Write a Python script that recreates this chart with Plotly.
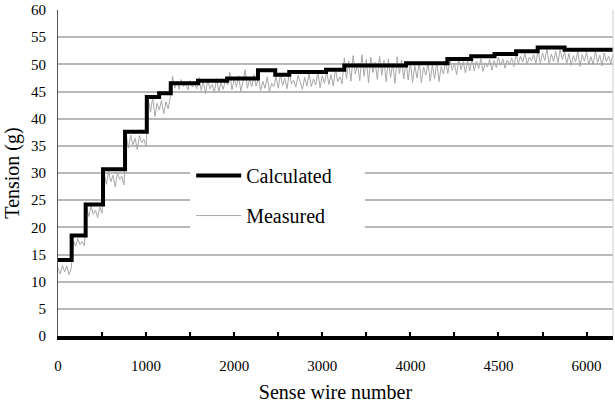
import plotly.graph_objects as go

# Calculated tension: step levels starting at each listed wire number
calc_wire = [0, 155, 314, 511, 761, 1008, 1148, 1280, 1590, 1920, 2270, 2466,
             2625, 3042, 3250, 3951, 4420, 4690, 4955, 5200, 5445, 5750, 6300]
calc_tension = [14.0, 18.5, 24.2, 30.7, 37.6, 44.0, 44.7, 46.5, 47.0, 47.4, 48.9, 48.1,
                48.6, 49.0, 49.8, 50.2, 51.0, 51.5, 51.9, 52.4, 53.1, 52.7, 52.7]

# Measured tension, sampled every 25 wires from wire 0
measured_tension = [
    12.6, 11.4, 13.0, 11.8, 12.9, 11.3, 12.4,
    17.6, 16.5, 17.9, 16.8, 17.4, 16.6,
    23.6, 22.0, 23.9, 22.4, 23.1, 21.8, 23.7, 22.6,
    29.8, 27.9, 30.3, 28.4, 29.6, 27.4, 30.1, 28.8, 29.4, 27.8,
    36.8, 34.6, 37.0, 35.2, 36.4, 34.3, 36.9, 35.6, 36.2, 34.8,
    43.6, 41.2, 43.9, 40.4, 42.8, 41.6, 43.4, 40.9, 43.1, 41.8, 44.0,
    47.8, 45.6, 46.9, 45.4, 47.2, 45.9, 46.6, 45.3, 47.0, 45.8, 46.4, 45.5,
    47.6, 45.2, 46.8, 44.6, 47.1, 45.5, 46.3, 44.8, 47.4, 45.0, 46.6, 45.4, 47.0,
    46.2, 48.6, 45.3, 47.4, 45.8, 47.9, 45.1, 46.8, 49.0, 45.6, 47.2, 45.9, 48.1, 46.0,
    47.5, 45.2, 46.9, 45.6, 47.7, 45.0, 46.5, 45.9,
    47.8, 45.6, 48.2, 46.1, 47.4, 45.5, 48.4, 46.4, 47.1, 45.8, 48.0, 46.7, 45.4, 47.6,
    46.0, 48.3, 45.9, 47.3, 46.2, 48.5, 45.7, 47.9, 46.5,
    48.7, 46.3, 48.1, 46.0, 49.2, 46.8, 47.7, 46.4,
    51.2, 47.4, 50.6, 46.9, 51.6, 48.2, 50.1, 47.0, 51.8, 47.8, 50.9, 46.6, 51.3, 48.5,
    50.4, 47.2, 51.5, 48.0, 50.7, 46.8, 51.0, 47.6, 50.2, 46.5, 51.4, 48.3, 50.8, 47.3, 50.5,
    47.1, 50.3, 46.7, 49.8, 47.5, 50.5, 46.6, 49.5, 48.0, 50.2, 46.9, 49.9, 47.3, 50.4,
    46.8, 49.6, 48.2, 50.6,
    48.3, 50.8, 48.9, 50.2, 48.1, 51.0, 49.0, 50.5, 48.4, 50.7, 48.8,
    51.1, 48.8, 50.6, 49.2, 51.0, 48.7, 50.3, 49.5, 50.9, 48.9, 50.7,
    49.4, 51.3, 49.8, 51.0, 49.3, 50.8, 50.0, 51.2, 49.6,
    51.9, 50.1, 51.5, 50.4, 52.0, 50.0, 51.3, 50.6, 51.8, 50.2,
    52.6, 50.2, 52.1, 50.7, 52.8, 50.0, 51.9, 50.5, 52.4, 50.3, 52.7, 50.9,
    52.3, 50.1, 52.0, 49.8, 51.6, 50.4, 52.4, 49.6, 51.8, 50.6, 52.2, 50.0, 51.4, 49.9,
    52.5, 50.3, 51.7, 49.7, 52.1, 50.5, 51.5, 50.2, 51.9,
]
measured_wire = list(range(0, 25 * len(measured_tension), 25))

# X tick positions and their printed labels
x_tick_vals = [0, 500, 1000, 1500, 2000, 2500, 3000, 3500, 4000, 4500, 5000, 5500, 6000]
x_tick_text = ["0", "", "1000", "", "2000", "", "3000", "", "4000", "", "4500", "", "6000"]
y_tick_vals = [0, 5, 10, 15, 20, 25, 30, 35, 40, 45, 50, 55, 60]

SERIF = "Liberation Serif"

fig = go.Figure()
fig.add_trace(go.Scatter(
    x=measured_wire, y=measured_tension, mode="lines", name="Measured",
    line=dict(color="#a8a8a8", width=1), legendrank=2, legendgroup="m",
))
fig.add_trace(go.Scatter(
    x=calc_wire, y=calc_tension, mode="lines", name="Calculated",
    line=dict(color="black", width=4, shape="hv"), legendrank=1, legendgroup="c",
))

# white panel behind the legend, hiding the gridlines there
fig.add_shape(type="rect", xref="paper", yref="paper",
              x0=0.238, x1=0.553, y0=0.295, y1=0.555,
              fillcolor="white", line=dict(width=0), layer="above")
# faint right border of the plot area
fig.add_shape(type="line", xref="paper", yref="paper", x0=1, x1=1, y0=0, y1=1,
              line=dict(color="#d0d0d0", width=1))

fig.update_layout(
    width=615, height=405,
    margin=dict(l=58, r=2, t=10, b=69),
    paper_bgcolor="white", plot_bgcolor="white",
    font=dict(family=SERIF, color="black", size=15),
    showlegend=True,
    legend=dict(
        x=0.24, y=0.552, xanchor="left", yanchor="top",
        bgcolor="rgba(0,0,0,0)", font=dict(family=SERIF, size=20, color="black"),
        itemwidth=45, tracegroupgap=11,
    ),
    xaxis=dict(
        range=[0, 6300], tickmode="array", tickvals=x_tick_vals, ticktext=x_tick_text,
        ticks="inside", ticklen=4, tickwidth=2, tickcolor="black",
        showline=True, linecolor="black", linewidth=4, showgrid=False, zeroline=False,
        tickfont=dict(family=SERIF, size=15), ticklabelstandoff=13,
        title=dict(text="Sense wire number", font=dict(family=SERIF, size=20), standoff=13),
    ),
    yaxis=dict(
        range=[0, 60], tickmode="array", tickvals=y_tick_vals,
        ticks="", showline=True, linecolor="#555555", linewidth=1,
        showgrid=True, gridcolor="#b8b8b8", gridwidth=1.5, zeroline=False,
        tickfont=dict(family=SERIF, size=15), ticklabelstandoff=8,
        title=dict(text="Tension (g)", font=dict(family=SERIF, size=20), standoff=6),
    ),
)

fig.write_html("out.html")
